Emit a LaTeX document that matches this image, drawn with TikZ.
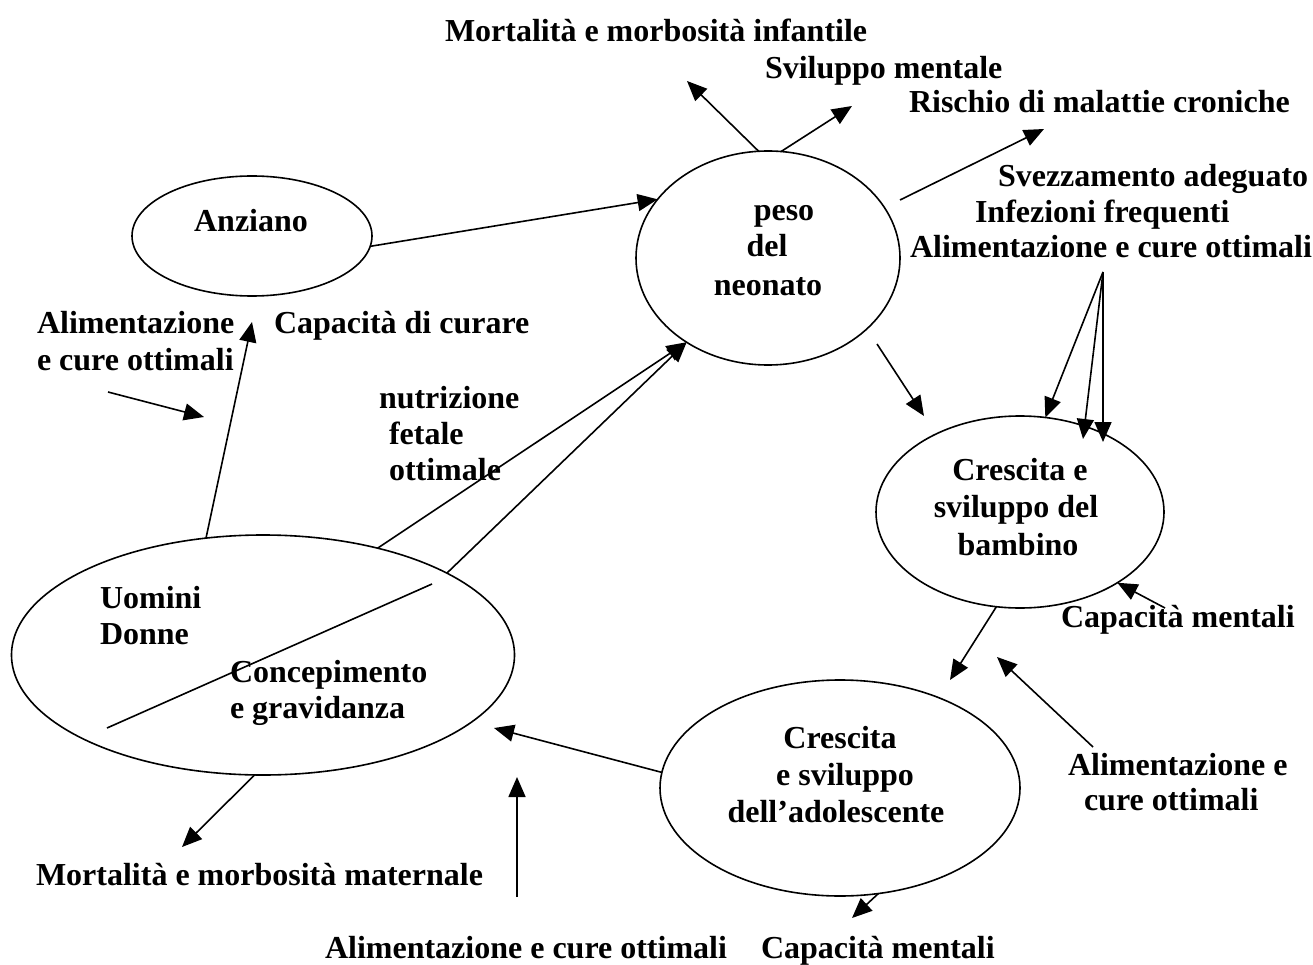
\documentclass[tikz,border=0pt]{standalone}
\usepackage{fontspec}
\setmainfont{Liberation Serif}
\usetikzlibrary{shapes.geometric,arrows.meta}
\begin{document}
\begin{tikzpicture}[x=1pt,y=-1pt,
  every node/.style={inner sep=0pt, outer sep=0pt},
  oval/.style={ellipse, draw, line width=1.6pt, inner sep=0pt},
  lbl/.style={font=\fontsize{32}{37}\selectfont\bfseries, anchor=base west},
  lblc/.style={font=\fontsize{32}{37}\selectfont\bfseries, anchor=base},
  arr/.style={line width=1.6pt, -{Triangle[length=20pt,width=17pt]}},
  ln/.style={line width=1.6pt}]
\useasboundingbox[fill=white] (0,0) rectangle (1313,965);

% ellipses
\node[oval, minimum width=240pt, minimum height=120pt] (anz) at (252,236) {};
\node[oval, minimum width=264pt, minimum height=214pt] (peso) at (768,258) {};
\node[oval, minimum width=288pt, minimum height=192pt] (bamb) at (1020,512) {};
\node[oval, minimum width=360pt, minimum height=216pt] (adol) at (840,788) {};
\node[oval, minimum width=503pt, minimum height=240pt] (uom) at (263,655) {};

% texts
\node[lbl] (tMI) at (445,42) {Mortalità e morbosità infantile};
\node[lbl] (tSM) at (765,79) {Sviluppo mentale};
\node[lbl] (tRC) at (909,113) {Rischio di malattie croniche};
\node[lbl] (tSA) at (998,187) {Svezzamento adeguato};
\node[lbl] (tIF) at (975,223) {Infezioni frequenti};
\node[lbl] (tAC1) at (910,258) {Alimentazione e cure ottimali};
\node[lblc] (tAnz) at (251,232) {Anziano};
\node[lblc] (tPeso) at (784,221) {peso};
\node[lblc] (tDel) at (767,257) {del};
\node[lblc] (tNeo) at (768,295) {neonato};
\node[lbl] (tAl1) at (37,333) {Alimentazione};
\node[lbl] (tAl2) at (37,370) {e cure ottimali};
\node[lbl] (tCC) at (274,333) {Capacità di curare};
\node[lbl] (tNu1) at (379,408) {nutrizione};
\node[lbl] (tNu2) at (389,444) {fetale};
\node[lbl] (tNu3) at (389,480) {ottimale};
\node[lblc] (tB1) at (1020,480) {Crescita e};
\node[lblc] (tB2) at (1016,517) {sviluppo del};
\node[lblc] (tB3) at (1018,555) {bambino};
\node[lbl] (tCM1) at (1061,627) {Capacità mentali};
\node[lbl] (tUo) at (100,608) {Uomini};
\node[lbl] (tDo) at (100,644) {Donne};
\node[lbl] (tCo) at (230,682) {Concepimento};
\node[lbl] (tGr) at (230,718) {e gravidanza};
\node[lblc] (tA1) at (840,748) {Crescita};
\node[lblc] (tA2) at (845,785) {e sviluppo};
\node[lblc] (tA3) at (836,822) {dell’adolescente};
\node[lbl] (tAl3) at (1068,775) {Alimentazione e};
\node[lbl] (tAl4) at (1084,810) {cure ottimali};
\node[lbl] (tMM) at (36,885) {Mortalità e morbosità maternale};
\node[lbl] (tAl5) at (325,958) {Alimentazione e cure ottimali};
\node[lbl] (tCM2) at (761,958) {Capacità mentali};

% free ends
\coordinate (cMI) at (687,81);
\coordinate (cSM) at (852,106);
\coordinate (cRCs) at (900,200);
\coordinate (cRC) at (1044,129);
\coordinate (cPBs) at (877,344);
\coordinate (cPB) at (924,416);
\coordinate (cAC) at (1103,272);
\coordinate (cB2) at (1083,439);
\coordinate (cB3) at (1103,442);
\coordinate (cCMs) at (1165,608);
\coordinate (cBA) at (950,680);
\coordinate (cAls) at (1093,747);
\coordinate (cAl) at (997,657);
\coordinate (cAU) at (494,728);
\coordinate (cUps) at (517,897);
\coordinate (cUp) at (517,777);
\coordinate (cMM) at (182,847);
\coordinate (cCM2) at (852,918);
\coordinate (cAnz) at (252,322);
\coordinate (cLs) at (108,392);
\coordinate (cL) at (204,417);
\coordinate (dg1) at (432,584);
\coordinate (dg2) at (107,728);

% connectors
\draw[arr] (anz.-5.3) -- (peso.152.2);
\draw[arr] (uom.43.9) -- (peso.226.3);
\draw[arr] (uom.24.2) -- (peso.226.3);
\draw[arr] (uom.116.6) -- (cAnz);
\draw[arr] (cLs) -- (cL);
\draw[arr] (peso.95.9) -- (cMI);
\draw[arr] (peso.83.5) -- (cSM);
\draw[arr] (cRCs) -- (cRC);
\draw[arr] (cPBs) -- (cPB);
\draw[arr] (cAC) -- (bamb.75.8);
\draw[arr] (cAC) -- (cB2);
\draw[arr] (cAC) -- (cB3);
\draw[arr] (cCMs) -- (bamb.-36.7);
\draw[arr] (bamb.256.5) -- (cBA);
\draw[arr] (cAls) -- (cAl);
\draw[arr] (adol.175.9) -- (cAU);
\draw[arr] (cUps) -- (cUp);
\draw[arr] (uom.-94.7) -- (cMM);
\draw[arr] (adol.-70.8) -- (cCM2);
\draw[ln] (dg1) -- (dg2);
\end{tikzpicture}
\end{document}
